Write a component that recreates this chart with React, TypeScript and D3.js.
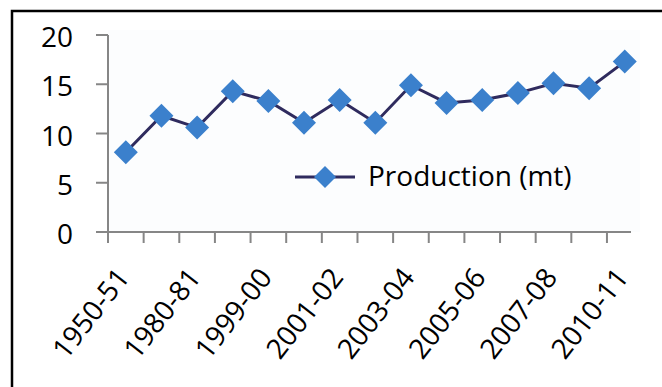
import React from "react";
import * as d3 from "d3";

// Production by year (million tonnes)
const years = [
  "1950-51", "1970-71", "1980-81", "1990-91", "1999-00", "2000-01", "2001-02", "2002-03",
  "2003-04", "2004-05", "2005-06", "2006-07", "2007-08", "2008-09", "2010-11",
];
const production = [8.1, 11.8, 10.6, 14.3, 13.3, 11.1, 13.4, 11.1, 14.9, 13.1, 13.4, 14.1, 15.1, 14.6, 17.3];
const yTicks = [0, 5, 10, 15, 20];
const seriesName = "Production (mt)";

const W = 662;
const H = 387;
const FONT = "'Open Sans', 'Noto Sans', sans-serif";
const AXIS = "#868686";
const LINE = "#2f2b5e";
const MARKER = "#3b80cc";

export default function App() {
  const x = d3.scaleBand<string>().domain(years).range([108, 108 + 15 * 35.64]);
  const y = d3.scaleLinear().domain([0, 20]).range([232, 35]);
  const cx = (d: string) => (x(d) ?? 0) + x.bandwidth() / 2;

  const line = d3
    .line<number>()
    .x((_, i) => cx(years[i]))
    .y((v) => y(v));

  const diamond = (px: number, py: number, r: number) =>
    `M${px},${py - r}L${px + r},${py}L${px},${py + r}L${px - r},${py}Z`;

  const legendY = 177;

  return (
    <svg
      width={W}
      height={H}
      style={{ position: "absolute", left: 0, top: 0, background: "#fff" }}
      fontFamily={FONT}
    >
      {/* chart frame */}
      <path d={`M12,${H}L12,11L${W},11`} fill="none" stroke="#000" strokeWidth={2.5} />

      {/* plot area */}
      <rect x={108} y={30} width={532} height={202} fill="#fcfdfe" />

      {/* y axis */}
      <line x1={108} x2={108} y1={y(20)} y2={y(0)} stroke={AXIS} strokeWidth={2} />
      {yTicks.map((t) => (
        <g key={t}>
          <line x1={96} x2={108} y1={y(t)} y2={y(t)} stroke={AXIS} strokeWidth={2} />
          <text x={73} y={y(t) + 1} textAnchor="end" dominantBaseline="central" fontSize={28} fill="#000">
            {t}
          </text>
        </g>
      ))}

      {/* x axis */}
      <line x1={108} x2={631} y1={y(0)} y2={y(0)} stroke={AXIS} strokeWidth={2} />
      {years.map((d) => (
        <line
          key={d}
          x1={x(d) ?? 0}
          x2={x(d) ?? 0}
          y1={y(0)}
          y2={y(0) + 11}
          stroke={AXIS}
          strokeWidth={2}
        />
      ))}
      {years.map((d, i) =>
        i % 2 === 0 ? (
          <text
            key={d}
            transform={`translate(${cx(d) + 5},${278}) rotate(-52)`}
            textAnchor="end"
            fontSize={28}
            fill="#000"
          >
            {d}
          </text>
        ) : null
      )}

      {/* series */}
      <path d={line(production) ?? ""} fill="none" stroke={LINE} strokeWidth={3} />
      {production.map((v, i) => (
        <path key={i} d={diamond(cx(years[i]), y(v), 12)} fill={MARKER} />
      ))}

      {/* legend */}
      <line x1={295} x2={355} y1={legendY} y2={legendY} stroke={LINE} strokeWidth={3} />
      <path d={diamond(325, legendY, 11)} fill={MARKER} />
      <text x={368} y={legendY - 2} dominantBaseline="central" fontSize={28} fill="#000">
        {seriesName}
      </text>
    </svg>
  );
}
